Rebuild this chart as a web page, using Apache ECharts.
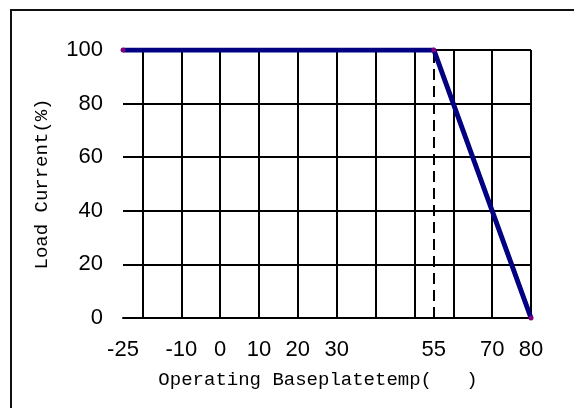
<!DOCTYPE html>
<html>
<head>
<meta charset="utf-8">
<script src="https://cdn.jsdelivr.net/npm/echarts@6/dist/echarts.min.js"></script>
<style>
  html, body { margin: 0; padding: 0; background: #fff; }
  #chart { width: 574px; height: 408px; }
</style>
</head>
<body>
<div id="chart"></div>
<script>
// derating curve: load current vs baseplate temperature
var tempX = [-25, 55, 80];
var loadY = [100, 100, 0];
var xLabels = [-25, -10, 0, 10, 20, 30, 55, 70, 80];
var xGrid = [-20, -10, 0, 10, 20, 30, 40, 50, 60, 70, 80];
var kneeTemp = 55;

var points = [];
for (var i = 0; i < tempX.length; i++) {
	points.push([tempX[i], loadY[i]]);
}

var myChart = echarts.init(document.getElementById('chart'));

var option = {
	animation: false,
	backgroundColor: '#fff',
	graphic: [{
		type: 'rect',
		shape: { x: 11, y: 10, width: 620, height: 430 },
		style: { fill: 'none', stroke: '#111', lineWidth: 2 },
		silent: true
	}],
	grid: {
		left: 123,
		right: 43,
		top: 50,
		bottom: 90
	},
	xAxis: {
		type: 'value',
		min: -25,
		max: 80,
		name: 'Operating Baseplatetemp(   )',
		nameLocation: 'middle',
		nameGap: 52,
		nameTextStyle: {
			fontFamily: 'Liberation Mono',
			fontSize: 19,
			color: '#000',
			padding: [0, 18, 0, 0]
		},
		axisLine: { lineStyle: { color: '#000', width: 2 } },
		axisTick: { show: false, customValues: xGrid },
		axisLabel: {
			customValues: xLabels,
			margin: 21,
			fontFamily: 'Liberation Sans',
			fontSize: 22,
			color: '#000'
		},
		splitLine: {
			show: true,
			lineStyle: { color: '#000', width: 2 }
		}
	},
	yAxis: {
		type: 'value',
		min: 0,
		max: 100,
		interval: 20,
		name: 'Load Current(%)',
		nameLocation: 'middle',
		nameGap: 72,
		nameTextStyle: {
			fontFamily: 'Liberation Mono',
			fontSize: 19,
			color: '#000'
		},
		axisLine: { show: true, lineStyle: { color: '#000', width: 2 } },
		axisTick: { show: false },
		axisLabel: {
			margin: 20,
			fontFamily: 'Liberation Sans',
			fontSize: 22,
			color: '#000'
		},
		splitLine: {
			show: true,
			lineStyle: { color: '#000', width: 2 }
		}
	},
	series: [{
		type: 'line',
		data: points,
		lineStyle: { color: '#000080', width: 5 },
		itemStyle: { color: '#800080' },
		symbol: 'circle',
		symbolSize: 5,
		z: 5,
		markLine: {
			silent: true,
			symbol: 'none',
			label: { show: false },
			lineStyle: { color: '#000', width: 2, type: [11, 6] },
			data: [[{ coord: [kneeTemp, 0] }, { coord: [kneeTemp, 100] }]]
		}
	}]
};

myChart.setOption(option);
</script>
</body>
</html>
